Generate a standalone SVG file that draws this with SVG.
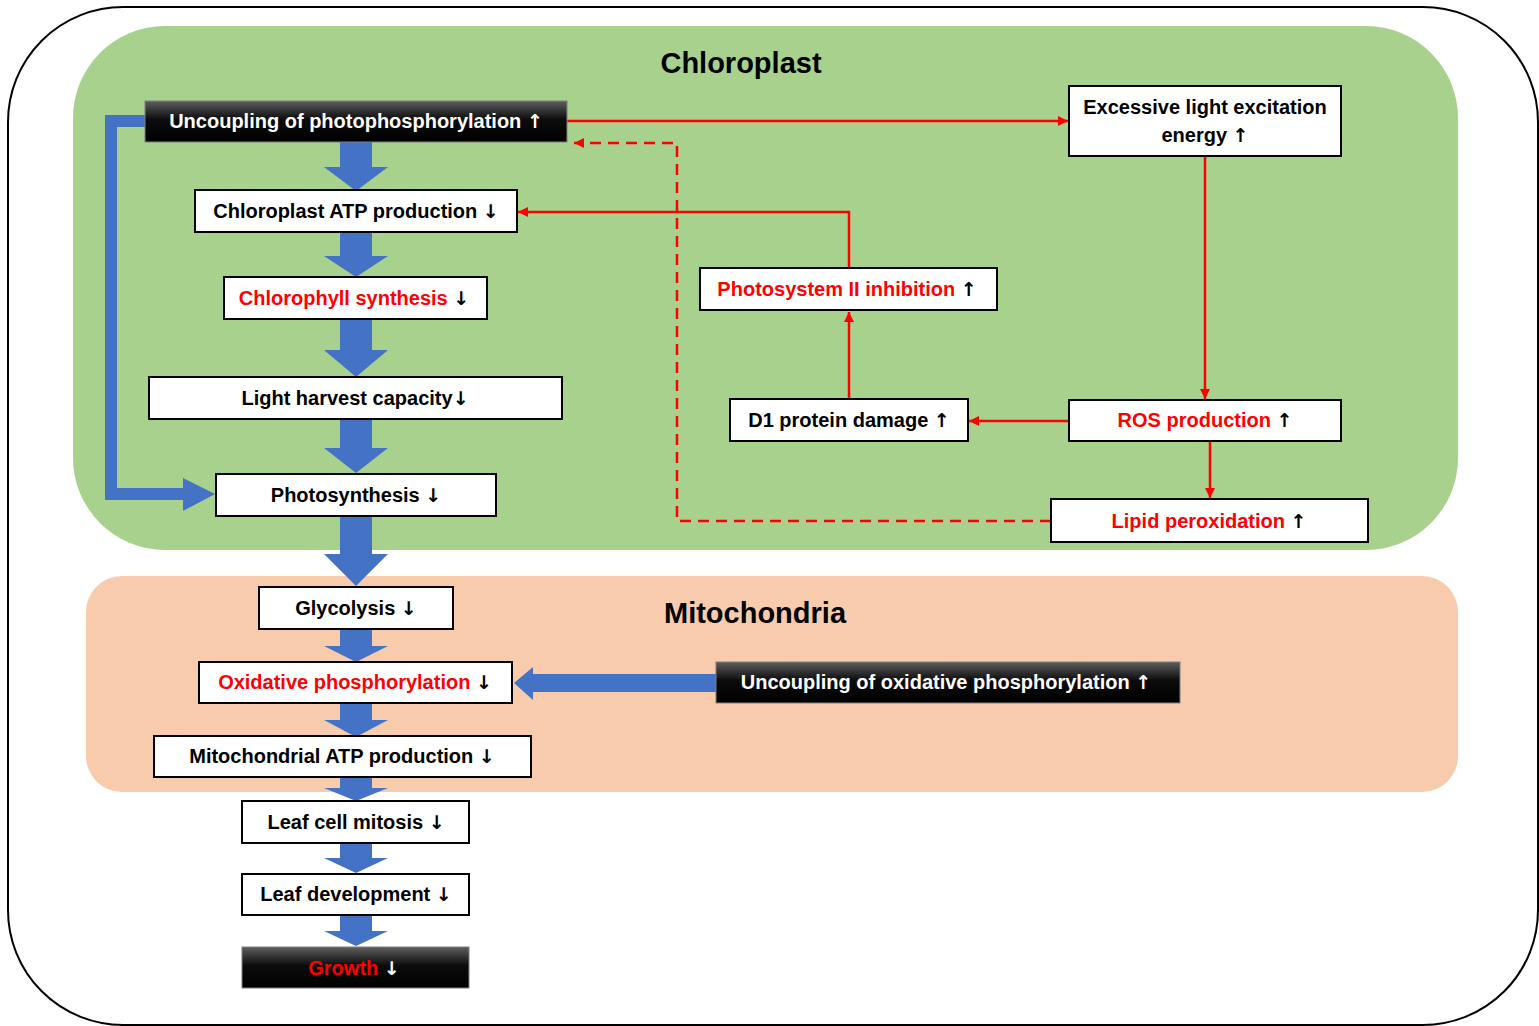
<svg xmlns="http://www.w3.org/2000/svg" width="1539" height="1026" viewBox="0 0 1539 1026">
<style>
text{font-family:"Liberation Sans",Arial,sans-serif;font-weight:bold;font-size:20px;text-anchor:middle}
.ar{font-family:"DejaVu Sans",sans-serif;font-size:19px}
.box{fill:#fff;stroke:#000;stroke-width:2}
.dark{fill:url(#dk);stroke:#7f7f7f;stroke-width:1}
.t{fill:#000}
.r{fill:#ff0000}
.w{fill:#fff}
.title{font-size:29px}
.blue{fill:#4472c4}
.red{stroke:#ff0000;stroke-width:2.5;fill:none}
.dash{stroke-dasharray:11 7}
</style>
<defs>
<linearGradient id="dk" x1="0" y1="0" x2="0" y2="1">
<stop offset="0" stop-color="#5e5e5e"/>
<stop offset="0.45" stop-color="#0c0c0c"/>
<stop offset="1" stop-color="#000"/>
</linearGradient>
<marker id="ah" viewBox="0 0 10 10" refX="10" refY="5" markerWidth="4.4" markerHeight="4" orient="auto" markerUnits="strokeWidth">
<path d="M0,0 L10,5 L0,10 z" fill="#ff0000"/>
</marker>
</defs>
<rect x="8" y="7" width="1530" height="1018" rx="115" ry="115" fill="#fff" stroke="#000" stroke-width="2"/>
<rect x="73" y="26" width="1385" height="524" rx="92" ry="92" fill="#a9d18e"/>
<rect x="86" y="576" width="1372" height="216" rx="36" ry="36" fill="#f8cbad"/>
<text class="title t" x="741" y="73">Chloroplast</text>
<text class="title t" x="755" y="623">Mitochondria</text>
<g id="connectors">
<polygon class="blue" points="340,142 372,142 372,167 388,167 356,191 324,167 340,167"/>
<polygon class="blue" points="340,233 372,233 372,256 388,256 356,277 324,256 340,256"/>
<polygon class="blue" points="340,320 372,320 372,350 388,350 356,377 324,350 340,350"/>
<polygon class="blue" points="340,420 372,420 372,448 388,448 356,473 324,448 340,448"/>
<polygon class="blue" points="340,517 372,517 372,554 388,554 356,586 324,554 340,554"/>
<polygon class="blue" points="340,630 372,630 372,646 388,646 356,662 324,646 340,646"/>
<polygon class="blue" points="340,704 372,704 372,720 388,720 356,737 324,720 340,720"/>
<polygon class="blue" points="340,778 372,778 372,788 388,788 356,801 324,788 340,788"/>
<polygon class="blue" points="340,844 372,844 372,858 388,858 356,873 324,858 340,858"/>
<polygon class="blue" points="340,916 372,916 372,931 388,931 356,946 324,931 340,931"/>
<polygon class="blue" points="145,115 105,115 105,500 183,500 183,511 215,494 183,478 183,488 117,488 117,127 145,127"/>
<polygon class="blue" points="716,674 533,674 533,667 514,683 533,700 533,692 716,692"/>
<line class="red" x1="567" y1="121" x2="1068" y2="121" marker-end="url(#ah)"/>
<polyline class="red dash" points="1051,521 677,521 677,143 574,143" marker-end="url(#ah)"/>
<polyline class="red" points="849,268 849,212 518,212" marker-end="url(#ah)"/>
<line class="red" x1="849" y1="399" x2="849" y2="312" marker-end="url(#ah)"/>
<line class="red" x1="1069" y1="421" x2="969" y2="421" marker-end="url(#ah)"/>
<line class="red" x1="1205" y1="156" x2="1205" y2="399" marker-end="url(#ah)"/>
<line class="red" x1="1210" y1="441" x2="1210" y2="498" marker-end="url(#ah)"/>
</g>
<g id="n-uncoupling-photo"><rect class="dark" x="145" y="101" width="422" height="41"/><text class="w" x="356" y="128">Uncoupling of photophosphorylation <tspan class="ar">↑</tspan></text></g>
<g id="n-chl-atp"><rect class="box" x="195" y="190" width="322" height="42"/><text class="t" x="356" y="218">Chloroplast ATP production <tspan class="ar">↓</tspan></text></g>
<g id="n-chlorophyll"><rect class="box" x="224" y="277" width="263" height="42"/><text x="354" y="305"><tspan class="r">Chlorophyll synthesis </tspan><tspan class="t ar">↓</tspan></text></g>
<g id="n-light"><rect class="box" x="149" y="377" width="413" height="42"/><text class="t" x="355" y="405">Light harvest capacity<tspan class="ar">↓</tspan></text></g>
<g id="n-photosynthesis"><rect class="box" x="216" y="474" width="280" height="42"/><text class="t" x="356" y="502">Photosynthesis <tspan class="ar">↓</tspan></text></g>
<g id="n-glycolysis"><rect class="box" x="259" y="587" width="194" height="42"/><text class="t" x="356" y="615">Glycolysis <tspan class="ar">↓</tspan></text></g>
<g id="n-oxphos"><rect class="box" x="199" y="662" width="313" height="41"/><text x="355" y="689"><tspan class="r">Oxidative phosphorylation </tspan><tspan class="t ar">↓</tspan></text></g>
<g id="n-mito-atp"><rect class="box" x="154" y="736" width="377" height="41"/><text class="t" x="342" y="763">Mitochondrial ATP production <tspan class="ar">↓</tspan></text></g>
<g id="n-mitosis"><rect class="box" x="242" y="801" width="227" height="42"/><text class="t" x="356" y="829">Leaf cell mitosis <tspan class="ar">↓</tspan></text></g>
<g id="n-leafdev"><rect class="box" x="242" y="874" width="227" height="41"/><text class="t" x="356" y="901">Leaf development <tspan class="ar">↓</tspan></text></g>
<g id="n-growth"><rect class="dark" x="242" y="947" width="227" height="41"/><text x="354" y="975"><tspan class="r">Growth </tspan><tspan class="w ar">↓</tspan></text></g>
<g id="n-excess"><rect class="box" x="1069" y="86" width="272" height="70"/><text class="t" x="1205" y="114">Excessive light excitation</text><text class="t" x="1205" y="142">energy <tspan class="ar">↑</tspan></text></g>
<g id="n-psii"><rect class="box" x="700" y="268" width="297" height="42"/><text x="847" y="296"><tspan class="r">Photosystem II inhibition </tspan><tspan class="t ar">↑</tspan></text></g>
<g id="n-d1"><rect class="box" x="730" y="399" width="238" height="42"/><text class="t" x="849" y="427">D1 protein damage <tspan class="ar">↑</tspan></text></g>
<g id="n-ros"><rect class="box" x="1069" y="400" width="272" height="41"/><text x="1205" y="427"><tspan class="r">ROS production </tspan><tspan class="t ar">↑</tspan></text></g>
<g id="n-lipid"><rect class="box" x="1051" y="499" width="317" height="43"/><text x="1209" y="528"><tspan class="r">Lipid peroxidation </tspan><tspan class="t ar">↑</tspan></text></g>
<g id="n-uncoupling-ox"><rect class="dark" x="716" y="662" width="464" height="41"/><text class="w" x="946" y="689">Uncoupling of oxidative phosphorylation <tspan class="ar">↑</tspan></text></g>
</svg>
